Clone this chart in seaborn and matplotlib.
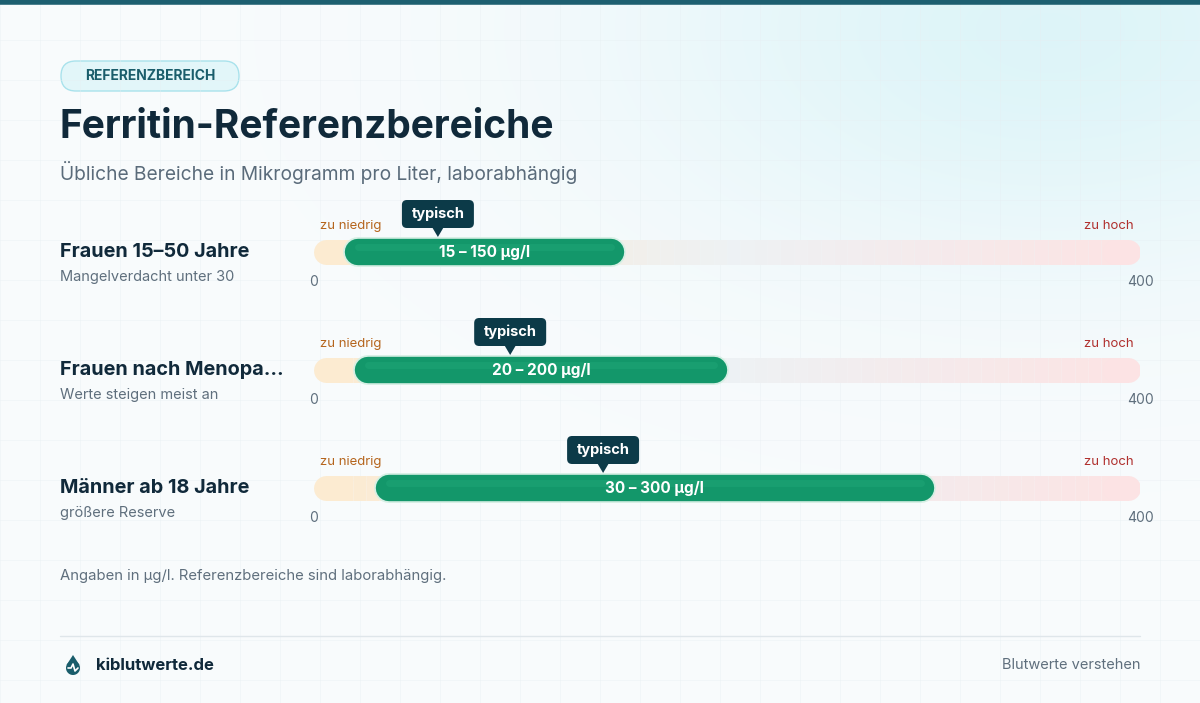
import numpy as np
import matplotlib
matplotlib.use("Agg")
import matplotlib.pyplot as plt
import seaborn as sns
from matplotlib.patches import FancyBboxPatch, Polygon

sns.set_theme(style="white")
plt.rcParams['font.family'] = ['Inter', 'DejaVu Sans']

groups = ["Frauen 15–50 Jahre", "Frauen nach Menopa…", "Männer ab 18 Jahre"]
notes = ["Mangelverdacht unter 30", "Werte steigen meist an", "größere Reserve"]
low = [15, 20, 30]
high = [150, 200, 300]
typical = [60, 95, 140]
range_labels = ["15 – 150 µg/l", "20 – 200 µg/l", "30 – 300 µg/l"]
axis_min, axis_max = 0, 400

W, H = 1200, 703
fig = plt.figure(figsize=(12, 7.03), dpi=100)
def fx(x): return x / W
def fy(y): return 1 - y / H

bg = fig.add_axes([0, 0, 1, 1]); bg.set_axis_off()
yy, xx = np.mgrid[0:H, 0:W]
d = np.exp(-(((xx - 1050) / 420.0) ** 2 + ((yy - 30) / 240.0) ** 2))
tint = np.array([0.87, 0.96, 0.975])
base = np.array([0.975, 0.985, 0.99])
img = base + (tint - base) * d[..., None]
bg.imshow(img, extent=[0, W, H, 0], aspect='auto')
for gx in range(0, W, 40):
    bg.plot([gx, gx], [0, H], color='#e6eef2', lw=0.5, alpha=0.5)
for gy in range(0, H, 40):
    bg.plot([0, W], [gy, gy], color='#e6eef2', lw=0.5, alpha=0.5)
bg.plot([0, W], [1.5, 1.5], color='#1d5f70', lw=4)
bg.set_xlim(0, W); bg.set_ylim(H, 0)

bg.add_patch(FancyBboxPatch((61, 61), 178, 30, boxstyle="round,pad=0,rounding_size=15",
                            fc='#e2f6f9', ec='#a9e2ec', lw=1))
bg.text(150, 76.5, "REFERENZBEREICH", ha='center', va='center', fontsize=10,
        fontweight='bold', color='#1a5d6b')
bg.text(60, 128, "Ferritin-Referenzbereiche", ha='left', va='center', fontsize=28,
        fontweight='bold', color='#10293a')
bg.text(60, 172, "Übliche Bereiche in Mikrogramm pro Liter, laborabhängig", ha='left',
        va='center', fontsize=13.8, color='#5a6b7a')

rows_y = [252, 370, 488]
for i, y in enumerate(rows_y):
    bg.text(60, y, groups[i], ha='left', va='center', fontsize=14.3, fontweight='bold', color='#10293a')
    bg.text(60, y + 25, notes[i], ha='left', va='center', fontsize=10.5, color='#5f6f7d')
    bg.text(320, y - 26, "zu niedrig", ha='left', va='center', fontsize=9.5, color='#b5651d')
    bg.text(1134, y - 26, "zu hoch", ha='right', va='center', fontsize=9.5, color='#b0302e')
    bg.text(314, y + 30, "0", ha='center', va='center', fontsize=10, color='#5f6f7d')
    bg.text(1140, y + 30, "400", ha='center', va='center', fontsize=10, color='#5f6f7d')

L, R, T, B = 314, 1140, 200, 530
ax = fig.add_axes([fx(L), fy(B), (R - L) / W, (B - T) / H])
ax.set_axis_off()
ax.patch.set_alpha(0)
ax.set_xlim(axis_min, axis_max)
ppu_y = 118.0
ax.set_ylim(2 + (B - 488) / ppu_y, -(252 - T) / ppu_y)
ppx = (R - L) / (axis_max - axis_min)

c0 = np.array([0.99, 0.92, 0.82]); c1 = np.array([0.93, 0.945, 0.955]); c2 = np.array([0.99, 0.89, 0.89])

for i in range(len(groups)):
    r = 12 / ppx
    segs = 60
    xs = np.linspace(axis_min + r, axis_max - r, segs + 1)
    for k in range(segs):
        tv = k / segs
        col = c0 + (c1 - c0) * (tv / 0.5) if tv < 0.5 else c1 + (c2 - c1) * ((tv - 0.5) / 0.5)
        ax.plot([xs[k], xs[k + 1]], [i, i], color=col, lw=18,
                solid_capstyle='round' if k in (0, segs - 1) else 'butt', zorder=1)
    rg = 13 / ppx
    ax.plot([low[i] + rg, high[i] - rg], [i, i], color='#d6efe4', lw=21.5, solid_capstyle='round', zorder=2)
    ax.plot([low[i] + rg, high[i] - rg], [i, i], color='#13976a', lw=19, solid_capstyle='round', zorder=3)
    ax.plot([low[i] + rg, high[i] - rg], [i - 5 / ppu_y, i - 5 / ppu_y], color='#2bb583', lw=5,
            solid_capstyle='round', alpha=0.25, zorder=4)
    ax.text((low[i] + high[i]) / 2, i, range_labels[i], ha='center', va='center', color='white',
            fontsize=11, fontweight='bold', zorder=5)
    cx = typical[i]
    bw, bh = 72 / ppx, 28 / ppu_y
    cy = i - 38 / ppu_y
    ax.add_patch(FancyBboxPatch((cx - bw / 2, cy - bh / 2), bw, bh,
                                boxstyle=f"round,pad=0,rounding_size={5/ppx}", mutation_aspect=ppx / ppu_y,
                                fc='#0c3a48', ec='none', zorder=6))
    ax.add_patch(Polygon([[cx - 6 / ppx, cy + bh / 2 - 0.01], [cx + 6 / ppx, cy + bh / 2 - 0.01],
                          [cx, cy + bh / 2 + 9 / ppu_y]], closed=True, fc='#0c3a48', ec='none', zorder=6))
    ax.text(cx, cy, "typisch", ha='center', va='center', color='white', fontsize=10.5,
            fontweight='bold', zorder=7)

bg.text(60, 576, "Angaben in µg/l. Referenzbereiche sind laborabhängig.", ha='left', va='center',
        fontsize=10.7, color='#5f6f7d')
bg.plot([60, 1140], [636, 636], color='#dfe6ea', lw=1)
th_ = np.linspace(0, 2 * np.pi, 100)
bg.add_patch(Polygon(np.column_stack([73 + 7 * np.cos(th_), 668 + 7 * np.sin(th_)]), fc='#1a5d6b', ec='none'))
bg.add_patch(Polygon([[66.5, 665], [79.5, 665], [73, 655]], fc='#1a5d6b', ec='none'))
bg.plot([68, 71, 73, 75, 78], [668, 668, 664, 671, 668], color='white', lw=1.2)
bg.text(96, 665, "kiblutwerte.de", ha='left', va='center', fontsize=12, fontweight='bold', color='#10293a')
bg.text(1140, 665, "Blutwerte verstehen", ha='right', va='center', fontsize=10.5, color='#5f6f7d')

fig.savefig("out.png", dpi=100)
